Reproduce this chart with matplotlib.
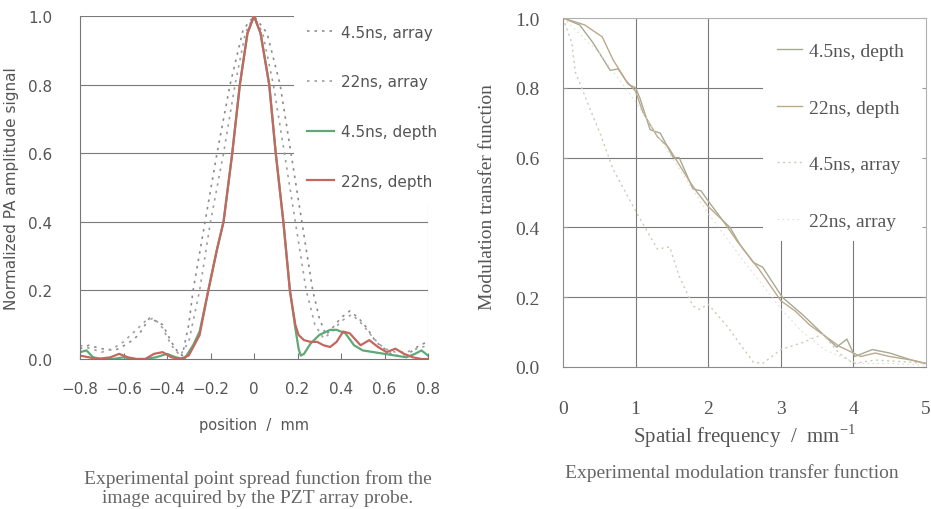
import matplotlib
matplotlib.use("Agg")
import matplotlib.pyplot as plt

# --- PSF (left panel) ---
psf_x_45d = [-0.80, -0.77, -0.74, -0.70, -0.65, -0.60, -0.55, -0.50, -0.45, -0.40, -0.36, -0.32,
             -0.28, -0.25, -0.21, -0.17, -0.14, -0.10, -0.065, -0.03, 0.0, 0.03, 0.07, 0.10,
             0.135, 0.165, 0.19, 0.205, 0.215, 0.23, 0.26, 0.30, 0.35, 0.38, 0.42, 0.46, 0.50,
             0.55, 0.60, 0.65, 0.70, 0.74, 0.77, 0.80]
psf_y_45d = [0.02, 0.025, 0.005, 0.0, 0.0, 0.005, 0.0, 0.0, 0.005, 0.015, 0.005, 0.0,
             0.04, 0.08, 0.2, 0.32, 0.4, 0.6, 0.8, 0.95, 1.0, 0.95, 0.8, 0.6,
             0.4, 0.2, 0.09, 0.03, 0.01, 0.015, 0.045, 0.07, 0.085, 0.085, 0.075, 0.04, 0.025,
             0.02, 0.015, 0.01, 0.005, 0.015, 0.025, 0.01]

psf_x_22d = [-0.80, -0.76, -0.72, -0.66, -0.62, -0.58, -0.54, -0.50, -0.46, -0.42, -0.38, -0.34,
             -0.30, -0.25, -0.21, -0.17, -0.14, -0.10, -0.065, -0.03, 0.0, 0.03, 0.07, 0.10,
             0.135, 0.165, 0.19, 0.205, 0.23, 0.26, 0.29, 0.32, 0.35, 0.38, 0.41, 0.44, 0.49,
             0.53, 0.57, 0.61, 0.65, 0.69, 0.73, 0.77, 0.80]
psf_y_22d = [0.01, 0.005, 0.0, 0.005, 0.015, 0.005, 0.0, 0.0, 0.015, 0.02, 0.005, 0.0,
             0.01, 0.07, 0.2, 0.32, 0.4, 0.6, 0.8, 0.95, 1.0, 0.95, 0.8, 0.6,
             0.4, 0.2, 0.1, 0.07, 0.055, 0.05, 0.05, 0.04, 0.035, 0.05, 0.08, 0.075, 0.04,
             0.055, 0.035, 0.02, 0.03, 0.015, 0.005, 0.0, 0.0]

psf_x_45a = [-0.80, -0.76, -0.70, -0.64, -0.58, -0.53, -0.48, -0.45, -0.42, -0.38, -0.35, -0.33,
             -0.30, -0.28, -0.225, -0.17, -0.11, -0.05, 0.0, 0.06, 0.12, 0.17, 0.22, 0.27,
             0.30, 0.33, 0.36, 0.40, 0.44, 0.48, 0.52, 0.56, 0.60, 0.64, 0.68, 0.72, 0.76, 0.80]
psf_y_45a = [0.03, 0.04, 0.03, 0.025, 0.045, 0.07, 0.12, 0.11, 0.10, 0.05, 0.02, 0.01,
             0.1, 0.2, 0.4, 0.6, 0.8, 0.96, 1.0, 0.95, 0.8, 0.6, 0.4, 0.2,
             0.12, 0.07, 0.09, 0.12, 0.14, 0.12, 0.09, 0.05, 0.03, 0.01, 0.01, 0.02, 0.04, 0.05]

psf_x_22a = [-0.80, -0.75, -0.70, -0.65, -0.60, -0.55, -0.50, -0.46, -0.42, -0.38, -0.34, -0.30,
             -0.25, -0.20, -0.14, -0.087, -0.04, 0.0, 0.04, 0.089, 0.14, 0.19, 0.24, 0.28,
             0.32, 0.36, 0.40, 0.45, 0.50, 0.55, 0.60, 0.65, 0.70, 0.75, 0.80]
psf_y_22a = [0.04, 0.03, 0.02, 0.03, 0.05, 0.08, 0.11, 0.12, 0.09, 0.04, 0.01, 0.05,
             0.2, 0.4, 0.6, 0.8, 0.95, 1.0, 0.95, 0.8, 0.6, 0.4, 0.2, 0.1,
             0.06, 0.08, 0.11, 0.13, 0.1, 0.06, 0.03, 0.02, 0.02, 0.03, 0.04]

psf_xticks = [-0.8, -0.6, -0.4, -0.2, 0, 0.2, 0.4, 0.6, 0.8]
psf_xticklabels = ["\u22120.8", "\u22120.6", "\u22120.4", "\u22120.2", "0", "0.2", "0.4", "0.6", "0.8"]

# --- MTF (right panel) ---
mtf_f_45d = [0, 0.23, 0.41, 0.65, 0.76, 0.9, 1.0, 1.06, 1.2, 1.34, 1.52, 1.6, 1.79, 1.9, 2.02,
             2.2, 2.3, 2.44, 2.62, 2.75, 3.02, 3.3, 3.58, 3.77, 3.91, 4.02, 4.26, 4.5, 4.8, 5.0]
mtf_y_45d = [1.0, 0.98, 0.93, 0.85, 0.854, 0.81, 0.80, 0.77, 0.68, 0.67, 0.60, 0.60, 0.51, 0.505, 0.47,
             0.42, 0.40, 0.35, 0.30, 0.286, 0.20, 0.15, 0.094, 0.057, 0.08, 0.03, 0.05, 0.04, 0.02, 0.01]

mtf_f_22d = [0, 0.3, 0.54, 0.69, 0.87, 1.0, 1.1, 1.3, 1.45, 1.6, 1.75, 1.85, 2.0, 2.2, 2.4,
             2.7, 3.0, 3.2, 3.4, 3.6, 3.8, 4.0, 4.1, 4.3, 4.5, 4.8, 5.0]
mtf_y_22d = [1.0, 0.98, 0.946, 0.88, 0.82, 0.79, 0.73, 0.66, 0.63, 0.58, 0.53, 0.50, 0.46, 0.42, 0.36,
             0.28, 0.19, 0.16, 0.12, 0.09, 0.06, 0.04, 0.03, 0.04, 0.03, 0.02, 0.01]

mtf_f_45a = [0, 0.12, 0.17, 0.4, 0.51, 0.69, 1.0, 1.3, 1.47, 1.6, 1.79, 1.88, 2.0, 2.26, 2.62,
             2.75, 3.0, 3.3, 3.58, 3.8, 4.0, 4.3, 4.7, 5.0]
mtf_y_45a = [1.0, 0.93, 0.845, 0.725, 0.67, 0.567, 0.447, 0.338, 0.344, 0.26, 0.175, 0.165, 0.18, 0.117, 0.014,
             0.01, 0.05, 0.07, 0.094, 0.04, 0.01, 0.02, 0.015, 0.01]

mtf_f_22a = [0, 0.5, 1.0, 1.5, 2.0, 2.5, 3.03, 3.3, 3.6, 4.05, 4.5, 5.0]
mtf_y_22a = [1.0, 0.9, 0.76, 0.6, 0.44, 0.3, 0.16, 0.1, 0.05, 0.01, 0.01, 0.005]

mtf_xticks = [0, 1, 2, 3, 4, 5]
mtf_yticks = [0.0, 0.2, 0.4, 0.6, 0.8, 1.0]

txt = "#555555"
grid_c = "#7a7a7a"

fig = plt.figure(figsize=(9.31, 5.10), dpi=100)

# ---------------- left panel ----------------
ax1 = fig.add_axes([80 / 931, 1 - 360 / 510, 348 / 931, 343 / 510])
dot = (0, (1.5, 3))
ax1.plot(psf_x_45a, psf_y_45a, color="#8c8c8c", lw=1.2, ls=dot, label="4.5ns, array")
ax1.plot(psf_x_22a, psf_y_22a, color="#a0a0a0", lw=1.2, ls=dot, label="22ns, array")
ax1.plot(psf_x_45d, psf_y_45d, color="#5fa878", lw=1.6, label="4.5ns, depth")
ax1.plot(psf_x_22d, psf_y_22d, color="#c4675f", lw=1.6, label="22ns, depth")

ax1.set_xlim(-0.8, 0.8)
ax1.set_ylim(0, 1.0)
for yv in [0.2, 0.4]:
    ax1.axhline(yv, color=grid_c, lw=0.8, zorder=0)
for yv in [0.6, 0.8, 1.0]:
    ax1.axhline(yv, xmax=0.612, color=grid_c, lw=0.8, zorder=0)
ax1.axvline(0.8, ymax=0.45, color="#aaaaaa", lw=0.8)
for s in ["top", "right"]:
    ax1.spines[s].set_visible(False)
for s in ["left", "bottom"]:
    ax1.spines[s].set_color("#777777")
ax1.set_xticks(psf_xticks)
ax1.set_xticklabels(psf_xticklabels)
ax1.set_yticks(mtf_yticks)
ax1.set_yticklabels(["0.0", "0.2", "0.4", "0.6", "0.8", "1.0"])
ax1.tick_params(axis="x", direction="in", length=4, color="#777777", pad=16, labelsize=11, labelcolor=txt)
ax1.tick_params(axis="y", length=0, pad=20, labelsize=11, labelcolor=txt)
ax1.set_ylabel("Normalized PA amplitude signal", fontsize=11, color=txt)
ax1.yaxis.set_label_coords(-0.175, 0.5)
ax1.set_xlabel("position  /  mm", fontsize=10.5, color=txt)
ax1.xaxis.set_label_coords(0.5, -0.17)
ax1.legend(loc="upper left", bbox_to_anchor=(0.652, 0.975), frameon=False, fontsize=11,
           labelspacing=2.27, handlelength=1.8, handletextpad=0.45, borderpad=0, borderaxespad=0,
           labelcolor=txt)

# ---------------- right panel ----------------
ax2 = fig.add_axes([563 / 931, 1 - 368 / 510, 363 / 931, 349 / 510])
ax2.plot(mtf_f_45d, mtf_y_45d, color="#a3ab93", lw=1.0, label="4.5ns, depth")
ax2.plot(mtf_f_22d, mtf_y_22d, color="#bda88c", lw=1.0, label="22ns, depth")
ax2.plot(mtf_f_45a, mtf_y_45a, color="#c8ccb8", lw=1.0, ls=(0, (1.5, 2.5)), label="4.5ns, array")
ax2.plot(mtf_f_22a, mtf_y_22a, color="#e2dcd2", lw=0.8, ls=(0, (1.5, 3)), label="22ns, array")

ax2.set_xlim(0, 5)
ax2.set_ylim(0, 1.0)
ax2.axhline(0.2, color=grid_c, lw=0.8, zorder=0)
for yv in [0.4, 0.6, 0.8]:
    ax2.axhline(yv, xmax=0.548, color=grid_c, lw=0.8, zorder=0)
for xv in [1, 2]:
    ax2.axvline(xv, color=grid_c, lw=0.8, zorder=0)
for xv in [3, 4]:
    ax2.axvline(xv, ymax=0.36, color=grid_c, lw=0.8, zorder=0)
for s in ["top", "right"]:
    ax2.spines[s].set_color("#b0b0b0")
for s in ["left", "bottom"]:
    ax2.spines[s].set_color("#8a8a8a")
ax2.set_xticks(mtf_xticks)
ax2.set_yticks(mtf_yticks)
ax2.set_yticklabels(["0.0", "0.2", "0.4", "0.6", "0.8", "1.0"])
ax2.tick_params(axis="x", length=0, pad=24, labelsize=14, labelcolor=txt, labelfontfamily="Liberation Serif")
ax2.tick_params(axis="y", length=0, pad=17, labelsize=14, labelcolor=txt, labelfontfamily="Liberation Serif")
ax2.tick_params(axis="y", which="both", right=True, direction="in", length=3, color="#999999")
ax2.set_ylabel("Modulation transfer function", fontsize=14, color=txt, family="Liberation Serif")
ax2.yaxis.set_label_coords(-0.185, 0.49)
ax2.set_xlabel("Spatial frequency  /  mm$^{\\mathdefault{-1}}$", fontsize=15, color=txt,
               family="Liberation Serif")
ax2.xaxis.set_label_coords(0.5, -0.155)
ax2.legend(loc="upper left", bbox_to_anchor=(0.59, 0.93), frameon=False,
           labelspacing=2.0, handlelength=1.3, handletextpad=0.35, borderpad=0, borderaxespad=0,
           labelcolor=txt, prop={"family": "Liberation Serif", "size": 14})

# captions
fig.text(258 / 931, 1 - 489 / 510, "Experimental point spread function from the\nimage acquired by the PZT array probe.",
         ha="center", va="center", fontsize=14, color="#666666", family="Liberation Serif", linespacing=1.15)
fig.text(732 / 931, 1 - 473 / 510, "Experimental modulation transfer function",
         ha="center", va="center", fontsize=14, color="#666666", family="Liberation Serif")

fig.savefig("out.png", dpi=100)
